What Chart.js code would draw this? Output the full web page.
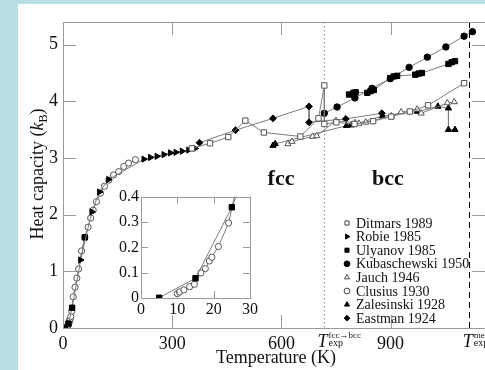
<!DOCTYPE html>
<html>
<head>
<meta charset="utf-8">
<script src="https://cdn.jsdelivr.net/npm/chart.js@4/dist/chart.umd.min.js"></script>
<style>
  html, body { margin: 0; padding: 0; width: 485px; height: 370px; overflow: hidden; background: #b8dfe2; }
  #panel { position: absolute; left: 18px; top: 4px; width: 467px; height: 366px; background: #fff; overflow: hidden; }
  #main { position: absolute; left: 0; top: 0; }
  #inset { position: absolute; left: 82px; top: 181px; }
</style>
</head>
<body>
<div id="panel">
  <canvas id="main" width="472" height="366"></canvas>
  <canvas id="inset" width="160" height="140"></canvas>
</div>
<script>
// Heat capacity of calcium (in units of k_B) versus temperature, several calorimetric data sets.

// ---- axis ticks and transition temperatures ----
const xTicks = [0, 300, 600, 900];
const yTicks = [0, 1, 2, 3, 4, 5];
const insetXTicks = [0, 10, 20, 30];
const insetYTicks = [0, 0.1, 0.2, 0.3, 0.4];
const T_FCC_BCC = 716;
const T_MELT = 1115;

// ---- measured series: temperature (K) and heat capacity (k_B) ----
const ditmarsT = [354, 404, 454, 501, 552, 652, 702, 718, 718, 751, 801, 852, 902, 953, 1003, 1102];
const ditmarsC = [3.17, 3.26, 3.37, 3.66, 3.45, 3.38, 3.70, 4.28, 3.60, 3.63, 3.60, 3.65, 3.73, 3.82, 3.93, 4.32];

const robieT = [48, 79, 100, 125, 222, 240, 258, 277, 295, 310, 327, 345, 363];
const robieC = [1.20, 2.05, 2.40, 2.62, 2.98, 3.01, 3.03, 3.06, 3.09, 3.10, 3.12, 3.14, 3.17];

const ulyanovT = [5, 15, 25, 60, 400, 786, 798, 804, 836, 845, 854, 899, 909, 918, 968, 977, 986, 1059, 1068, 1077];
const ulyanovC = [0.001, 0.078, 0.358, 1.60, null, 4.12, 4.15, 4.16, 4.15, 4.18, 4.20, 4.41, 4.44, 4.45, 4.47, 4.49, 4.50, 4.66, 4.69, 4.71];

const kubaschewskiT = [718, 753, 802, 849, 899, 951, 1001, 1052, 1102, 1125];
const kubaschewskiC = [3.79, 3.90, 4.06, 4.23, 4.40, 4.60, 4.78, 4.96, 5.15, 5.23];

const jauchT = [618, 629, 686, 697, 750, 802, 813, 832, 902, 929, 973, 984, 1056, 1075];
const jauchC = [3.25, 3.29, 3.38, 3.39, 3.66, 3.62, 3.61, 3.63, 3.74, 3.81, 3.86, 3.79, 3.97, 3.99];

const clusiusT = [10.0, 10.6, 11.8, 13.4, 14.7, 16.5, 17.7, 18.8, 19.5, 21.3, 24.1,
                  28, 33, 38, 43, 51, 60, 69, 76, 83, 92, 103, 114, 126, 139, 153, 167, 180, 199];
const clusiusC = [0.017, 0.024, 0.032, 0.045, 0.054, 0.099, 0.116, 0.146, 0.161, 0.203, 0.296,
                  0.55, 0.72, 0.88, 1.04, 1.36, 1.60, 1.78, 1.94, 2.08, 2.23, 2.38, 2.50, 2.61, 2.70, 2.76, 2.85, 2.91, 2.97];

const zalesinskiT = [577, 583, 779, 792, 878, 974, 1030, 1059, 1059, 1077];
const zalesinskiC = [3.22, 3.25, 3.57, 3.58, 3.74, 3.82, 3.91, 3.88, 3.50, 3.50];

const eastmanT = [375, 474, 577, 676, 676, 777, 876];
const eastmanC = [3.27, 3.49, 3.70, 3.91, 3.63, 3.69, 3.79];

const FONT = '"Liberation Serif", "Times New Roman", serif';
const LINE_GREY = '#7d7d7d';
const FRAME_GREY = '#9a9a9a';

const series = [
  { label: 'Ditmars 1989',      T: ditmarsT,      C: ditmarsC,      style: 'rect',     open: true,  r: 3.8 },
  { label: 'Robie 1985',        T: robieT,        C: robieC,        style: 'triangle', rot: 90,     r: 3.6 },
  { label: 'Ulyanov 1985',      T: ulyanovT,      C: ulyanovC,      style: 'rect',     open: false, r: 3.8 },
  { label: 'Kubaschewski 1950', T: kubaschewskiT, C: kubaschewskiC, style: 'circle',   open: false, r: 3.2 },
  { label: 'Jauch 1946',        T: jauchT,        C: jauchC,        style: 'triangle', open: true,  r: 3.6 },
  { label: 'Clusius 1930',      T: clusiusT,      C: clusiusC,      style: 'circle',   open: true,  r: 3.1 },
  { label: 'Zalesinski 1928',   T: zalesinskiT,   C: zalesinskiC,   style: 'triangle', open: false, r: 3.6 },
  { label: 'Eastman 1924',      T: eastmanT,      C: eastmanC,      style: 'rectRot',  open: false, r: 3.4 }
];

function toPoints(T, C) { return T.map((t, i) => ({ x: t, y: C[i] })); }

function toDataset(s) {
  return {
    label: s.label,
    data: toPoints(s.T, s.C),
    borderColor: LINE_GREY,
    borderWidth: 1,
    tension: 0,
    fill: false,
    spanGaps: false,
    pointStyle: s.style,
    pointRotation: s.rot || 0,
    pointRadius: s.r,
    pointHoverRadius: s.r,
    pointBackgroundColor: s.open ? '#fff' : '#000',
    pointBorderColor: s.open ? '#555' : '#000',
    pointBorderWidth: 1
  };
}

function marker(ctx, s, x, y, r) {
  ctx.save();
  ctx.fillStyle = s.open ? '#fff' : '#000';
  ctx.strokeStyle = s.open ? '#444' : '#000';
  ctx.lineWidth = 1;
  Chart.helpers.drawPoint(ctx, { pointStyle: s.style, rotation: s.rot || 0, radius: r, borderWidth: 1 }, x, y);
  ctx.restore();
}

// draws a run of text pieces (with optional font and vertical shift) starting at x
function drawRuns(ctx, runs, x, y) {
  let cx = x;
  for (const r of runs) {
    ctx.font = r.f;
    ctx.fillText(r.t, cx, y + (r.dy || 0));
    cx += ctx.measureText(r.t).width + (r.gap || 0);
  }
  return cx;
}
function runsWidth(ctx, runs) {
  let w = 0;
  for (const r of runs) { ctx.font = r.f; w += ctx.measureText(r.t).width + (r.gap || 0); }
  return w;
}

function framePlugin(tickLen, extra) {
  return {
    id: 'frame',
    beforeDatasetsDraw(chart) {
      if (extra && extra.before) extra.before(chart);
    },
    afterDraw(chart) {
      const { ctx, chartArea: a, scales } = chart;
      ctx.save();
      ctx.strokeStyle = FRAME_GREY;
      ctx.lineWidth = 1;
      ctx.strokeRect(Math.round(a.left) + 0.5, Math.round(a.top) + 0.5,
                     Math.round(a.right - a.left), Math.round(a.bottom - a.top));
      ctx.beginPath();
      for (const t of scales.x.ticks) {
        const px = Math.round(scales.x.getPixelForValue(t.value)) + 0.5;
        ctx.moveTo(px, a.bottom); ctx.lineTo(px, a.bottom - tickLen);
        ctx.moveTo(px, a.top); ctx.lineTo(px, a.top + tickLen);
      }
      for (const t of scales.y.ticks) {
        const py = Math.round(scales.y.getPixelForValue(t.value)) + 0.5;
        ctx.moveTo(a.left, py); ctx.lineTo(a.left + tickLen, py);
        ctx.moveTo(a.right, py); ctx.lineTo(a.right - tickLen, py);
      }
      ctx.stroke();
      ctx.restore();
      if (extra && extra.after) extra.after(chart);
    }
  };
}

function fixedTicks(values) {
  return function (scale) { scale.ticks = values.map(v => ({ value: v })); };
}

// ---- main chart ----
const mainExtra = {
  before(chart) {
    const { ctx, chartArea: a, scales } = chart;
    ctx.save();
    ctx.lineWidth = 1;
    // fcc -> bcc transition (dotted)
    let px = Math.round(scales.x.getPixelForValue(T_FCC_BCC)) + 0.5;
    ctx.strokeStyle = '#888';
    ctx.setLineDash([1.5, 2.5]);
    ctx.beginPath(); ctx.moveTo(px, a.top); ctx.lineTo(px, a.bottom); ctx.stroke();
    // melting point (dashed)
    px = Math.round(scales.x.getPixelForValue(T_MELT)) + 0.5;
    ctx.strokeStyle = '#000';
    ctx.setLineDash([6, 4]);
    ctx.beginPath(); ctx.moveTo(px, a.top); ctx.lineTo(px, a.bottom); ctx.stroke();
    ctx.restore();
  },
  after(chart) {
    const { ctx, chartArea: a, scales } = chart;
    ctx.save();
    ctx.fillStyle = '#111';
    ctx.textBaseline = 'alphabetic';

    // phase labels
    ctx.font = 'bold 22px ' + FONT;
    ctx.textAlign = 'center';
    ctx.fillText('fcc', 263, 181);
    ctx.fillText('bcc', 370, 181);

    // x-axis title
    ctx.font = '18px ' + FONT;
    ctx.fillText('Temperature (K)', 258, 359);

    // transition temperature labels under the axis
    ctx.textAlign = 'left';
    const base = a.bottom + 19;
    const labels = [[T_FCC_BCC, 'fcc\u2192bcc'], [T_MELT, 'melt']];
    for (const [T, sup] of labels) {
      const px = scales.x.getPixelForValue(T);
      ctx.font = 'italic 18px ' + FONT;
      const x0 = px - 6;
      ctx.fillText('T', x0, base);
      const xs = x0 + ctx.measureText('T').width + 1;
      ctx.font = '9px ' + FONT;
      ctx.fillText(sup, xs, base - 9);
      ctx.font = '10px ' + FONT;
      ctx.fillText('exp', xs, base - 1);
    }

    // y-axis title, rotated, with italic k and subscript B
    const runs = [
      { t: 'Heat capacity (', f: '18px ' + FONT },
      { t: 'k', f: 'italic 18px ' + FONT },
      { t: 'B', f: '12px ' + FONT, dy: 4 },
      { t: ')', f: '18px ' + FONT }
    ];
    ctx.translate(25, 170);
    ctx.rotate(-Math.PI / 2);
    const w = runsWidth(ctx, runs);
    drawRuns(ctx, runs, -w / 2, 0);
    ctx.restore();

    // legend
    ctx.save();
    ctx.fillStyle = '#111';
    ctx.font = '14px ' + FONT;
    ctx.textBaseline = 'middle';
    ctx.textAlign = 'left';
    series.forEach((s, i) => {
      const y = 219 + i * 13.6;
      marker(ctx, s, 329, y, 2.9);
      ctx.fillText(s.label, 338, y + 1);
    });
    ctx.restore();
  }
};

new Chart(document.getElementById('main'), {
  type: 'line',
  data: { datasets: series.map(toDataset) },
  options: {
    responsive: false,
    animation: false,
    devicePixelRatio: 1,
    layout: { padding: { top: 18, right: 2, left: 0, bottom: 0 } },
    plugins: { legend: { display: false }, tooltip: { enabled: false } },
    scales: {
      x: {
        type: 'linear', min: 0, max: 1160,
        afterBuildTicks: fixedTicks(xTicks),
        afterFit(s) { s.height = 42; },
        grid: { display: false, drawTicks: false }, border: { display: false },
        ticks: { font: { family: FONT, size: 18 }, color: '#111', padding: 5, maxRotation: 0, autoSkip: false }
      },
      y: {
        type: 'linear', min: 0, max: 5.4,
        afterBuildTicks: fixedTicks(yTicks),
        afterFit(s) { s.width = 45; },
        grid: { display: false, drawTicks: false }, border: { display: false },
        ticks: { font: { family: FONT, size: 18 }, color: '#111', padding: 5 }
      }
    }
  },
  plugins: [framePlugin(13, mainExtra)]
});

// ---- low-temperature inset ----
const insetSeries = series.filter(s => s.label === 'Clusius 1930' || s.label === 'Ulyanov 1985');
new Chart(document.getElementById('inset'), {
  type: 'line',
  data: { datasets: insetSeries.map(toDataset) },
  options: {
    responsive: false,
    animation: false,
    devicePixelRatio: 1,
    layout: { padding: { top: 10, right: 9, left: 0, bottom: 0 } },
    plugins: { legend: { display: false }, tooltip: { enabled: false } },
    scales: {
      x: {
        type: 'linear', min: 0, max: 30,
        afterBuildTicks: fixedTicks(insetXTicks),
        afterFit(s) { s.height = 27; },
        grid: { display: false, drawTicks: false }, border: { display: false },
        ticks: { font: { family: FONT, size: 16 }, color: '#111', padding: 2, maxRotation: 0, autoSkip: false }
      },
      y: {
        type: 'linear', min: 0, max: 0.4,
        afterBuildTicks: fixedTicks(insetYTicks),
        afterFit(s) { s.width = 41; },
        grid: { display: false, drawTicks: false }, border: { display: false },
        ticks: {
          font: { family: FONT, size: 16 }, color: '#111', padding: 2,
          callback: v => (v === 0 ? '0' : v.toFixed(1))
        }
      }
    }
  },
  plugins: [framePlugin(7)]
});
</script>
</body>
</html>
